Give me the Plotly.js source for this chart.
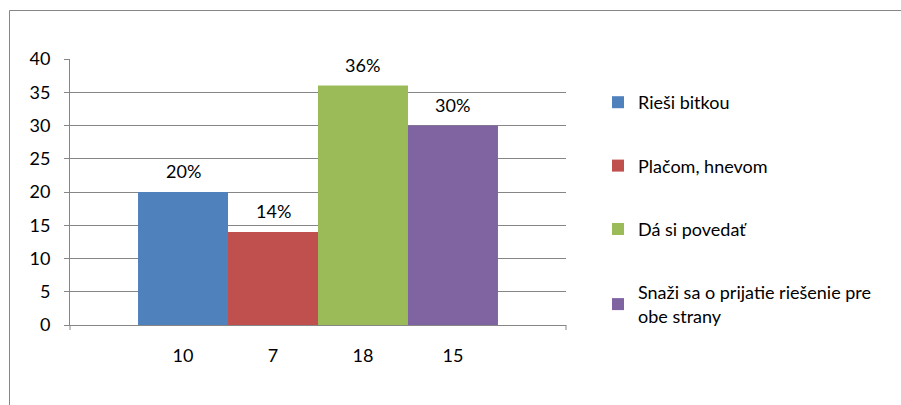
<!DOCTYPE html>
<html>
<head>
<meta charset="utf-8">
<script src="https://cdn.plot.ly/plotly-3.0.1.min.js"></script>
<style>html,body{margin:0;padding:0;background:#fff;}#chart{width:901px;height:405px;}</style>
</head>
<body>
<div id="chart"></div>
<script>
// Data
const categories = ['10', '7', '18', '15'];
const seriesNames = ['Rieši bitkou', 'Plačom, hnevom', 'Dá si povedať', 'Snaži sa o prijatie riešenie pre<br>obe strany'];
const values = [20, 14, 36, 30];
const valueLabels = ['20%', '14%', '36%', '30%'];
const colors = ['#4F81BD', '#C0504D', '#9BBB59', '#8064A2'];

const FONT = 'Lato, Open Sans, sans-serif';
const FS = 18;

const traces = categories.map((c, i) => ({
  type: 'bar',
  x: [c],
  y: [values[i]],
  name: seriesNames[i],
  legendgroup: 'g' + i,
  marker: {color: colors[i], line: {width: 0}},
  width: 1,
  hoverinfo: 'y+name'
}));

// category axis: annotations positioned by category index
const annotations = categories.map((c, i) => ({
  x: i, y: values[i], text: valueLabels[i],
  xref: 'x', yref: 'y', showarrow: false,
  yanchor: 'bottom', yshift: 8,
  font: {family: FONT, size: FS, color: '#000'}
}));

const W = 901, H = 405, L = 70, R = 566, T = 59, B = 325;
const px = v => (v - L) / (R - L);
const py = v => (B - v) / (B - T);
const gray = '#868686';

const shapes = [
  {type: 'line', xref: 'paper', yref: 'paper', x0: px(9.5), x1: px(9.5), y0: py(10.5), y1: py(406), line: {color: gray, width: 1}},
  {type: 'line', xref: 'paper', yref: 'paper', x0: px(9.5), x1: px(902), y0: py(10.5), y1: py(10.5), line: {color: gray, width: 1}},
  {type: 'line', xref: 'paper', yref: 'paper', x0: 0, x1: 0, y0: 0, y1: py(330), line: {color: gray, width: 1}},
  {type: 'line', xref: 'paper', yref: 'paper', x0: 1, x1: 1, y0: 0, y1: py(330), line: {color: gray, width: 1}}
];

const layout = {
  width: W, height: H,
  margin: {l: L, r: W - R, t: T, b: H - B, pad: 0},
  paper_bgcolor: '#fff', plot_bgcolor: '#fff',
  font: {family: FONT, size: FS, color: '#000'},
  barmode: 'overlay',
  showlegend: true,
  legend: {
    x: px(598), xanchor: 'left', y: py(84), yanchor: 'top',
    traceorder: 'grouped', tracegroupgap: 37,
    font: {family: FONT, size: FS, color: '#000'},
    bgcolor: 'rgba(0,0,0,0)', itemclick: false
  },
  xaxis: {
    type: 'category', range: [-1.256, 4.256],
    showgrid: false, zeroline: false,
    showline: true, linecolor: gray, linewidth: 1,
    ticks: '', ticklabelstandoff: 14,
    tickfont: {family: FONT, size: FS, color: '#000'},
    fixedrange: true
  },
  yaxis: {
    range: [0, 40], dtick: 5, tick0: 0,
    showgrid: true, gridcolor: gray, gridwidth: 1,
    zeroline: false,
    showline: true, linecolor: gray, linewidth: 1,
    ticks: 'outside', ticklen: 5, tickcolor: gray,
    ticklabelstandoff: 10,
    tickfont: {family: FONT, size: FS, color: '#000'},
    fixedrange: true
  },
  annotations: annotations,
  shapes: shapes
};

Plotly.newPlot('chart', traces, layout, {displayModeBar: false});
</script>
</body>
</html>
